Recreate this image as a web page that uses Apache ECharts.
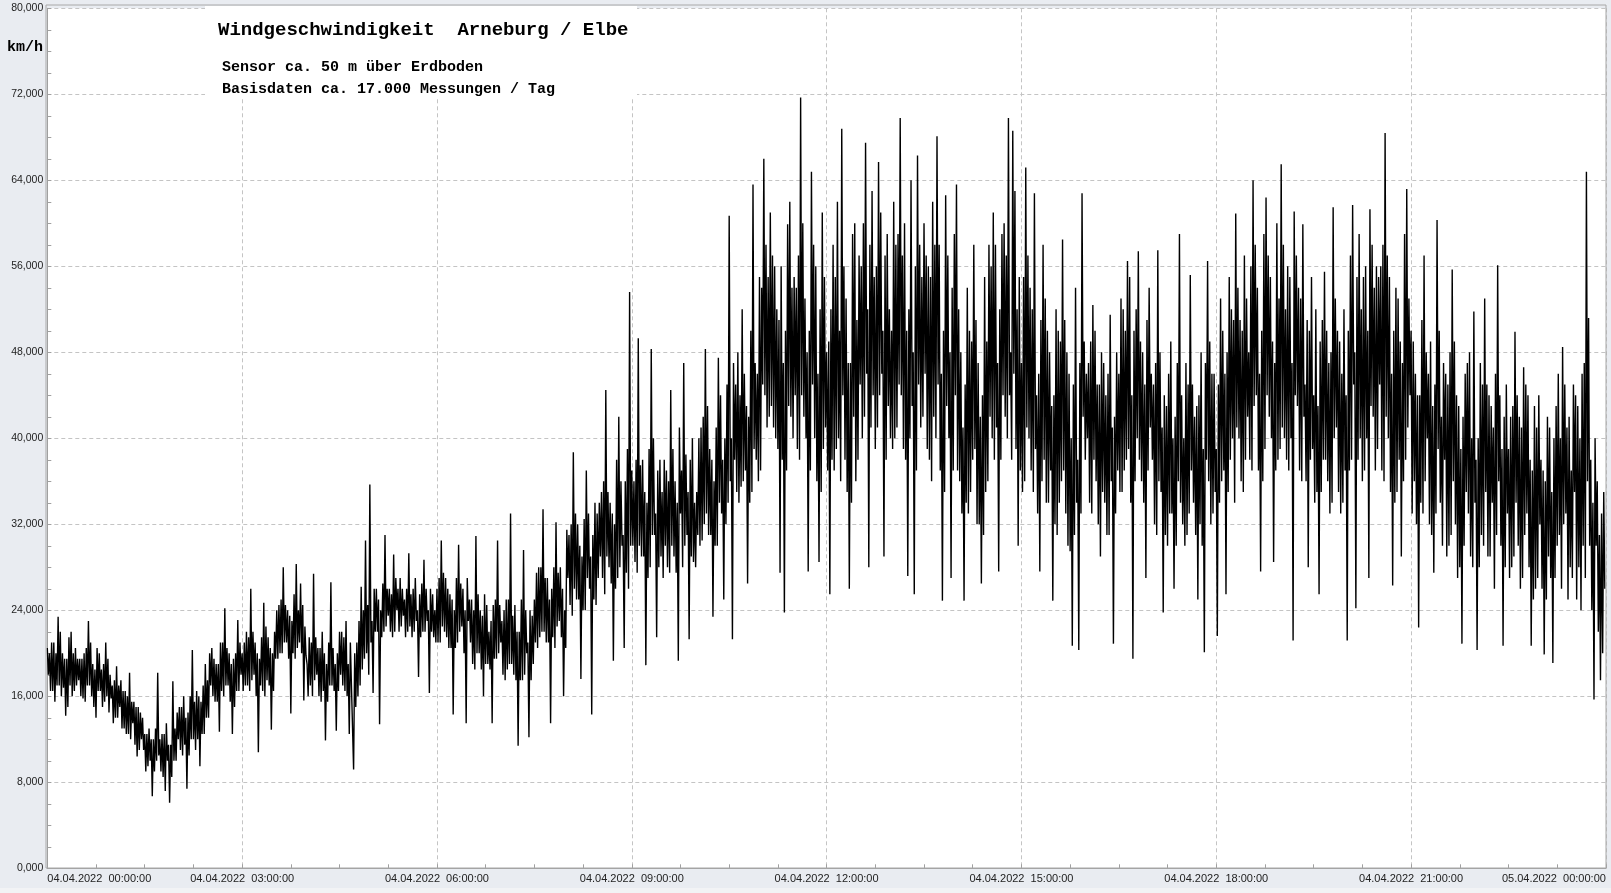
<!DOCTYPE html>
<html>
<head>
<meta charset="utf-8">
<script src="https://cdn.jsdelivr.net/npm/echarts@6/dist/echarts.min.js"></script>
<style>
html,body{margin:0;padding:0;background:#e9ecf1;}
#chart{width:1611px;height:893px;}
</style>
</head>
<body>
<div id="chart"></div>
<script>
// Wind speed km/h: two readings per 2-minute bin
// (first reading "a", second reading "b"), grouped in 3-hour blocks.
var a00_03 = [18,20,16.5,21,17,23.4,16,20,14.2,19.5,17,22,16.5,20.5,17.5,
  19.5,15.8,20,17,23,16,19,14,20.5,16.5,18.5,15.5,21,14.5,18,
  17,14,18.8,15,17.5,13,16.5,12.5,18.2,13.5,15.5,10.4,15,12,14,
  12.5,9.5,13,6.7,12,10,18.2,9,12.5,7.2,13.5,6.1,11.5,17.4,10,
  12,15,10.5,16,7.4,14.5,12,20.3,11,16.5,9.5,15.5,12.5,19,14,
  17,20.5,15.5,19,12.7,21,16,24.2,17,20,12.5,19.5,16.5,23.1,18];
var b00_03 = [20.5,16.5,21,15.5,20,17,22,16.8,19.5,15,21.5,16,20,17,19.5,
  16,19.5,15.5,20.5,17,21,15,18.5,16.5,20,15,19,16,19.5,15.8,
  13.5,17.5,14,17,13,16.5,12.5,16,12,15.5,11.5,15,11,14.5,11,
  9,12.5,10,12,9,13,10.5,12,8.5,12.5,10,11.5,8.5,10,13,
  14.5,11,15,11.5,14,10.5,16,12,15.5,12,16,12.5,17,14,17.5,
  20,16,19.5,15.5,19,16.5,21,17,20.5,15.5,19,15,20,16.5,21];
var a03_06 = [20,17,22,16.5,26,18,21,10.8,19.5,16.5,24.7,17.5,21.5,12.9,20,
  22,19.5,24.5,20,28,21,24,14.4,23,19.5,28.3,21,26.5,15.6,22.5,
  19,21.5,16,27.4,18,20.5,15.5,22,11.9,19,17,26.6,16.5,12.8,20,
  18,22,16.5,23,12.5,17,9.2,15,21,17,26.2,19.5,30.5,18,35.7,
  16.3,22,26,13.4,24,22,31,23.5,26,21.5,29.2,24,22,27,23.5,
  25,22,29.3,21.5,26,23,17.8,25.5,22,28.7,23,16.3,26,21.5,24];
var b03_06 = [16.5,21,17,21.5,17.5,22,16,20,17,21.5,16,22.5,17,20.5,16.5,
  19.5,24,20,25,21,24.5,19.5,23.5,20,25.5,20.5,24,20,24.5,19.8,
  16,17,21,17.5,21.5,16,20.5,16.5,20,15.5,21,17,20.5,19,16.5,
  22,17,21.5,16,19,21,17,20,16,23,18.5,24,20,24.5,21,
  23,26,22,25,21.5,26.5,22.5,26,22,25.5,22,27,26,22.5,26,
  21.5,26,22.5,25.5,22,27,24,21.5,26.5,22,26,24,22,25.5,21];
var a06_09 = [26,21,30.5,22,27,20.5,25.5,14.3,24,21,30.1,22.5,26,13.5,23,
  21,25,18.5,30.9,20,24,16,25.5,19,22,13.5,24.5,19.5,30.5,21,
  23,17.5,25,19,33,18,24.5,11.4,22,17.5,29.6,20,12.2,24,19,
  25,20.5,28,22,33.4,21,27,13.5,26,20.5,32.2,23,28,16,24,
  27,31,23.5,38.7,25,32,17.6,29,24,37,26,14.3,31,24.5,33,
  29,35,25.5,44.5,28,34,19.3,32,27,42,30,20.5,36,26,53.6];
var b06_09 = [21,27,22.5,27.5,21.5,26,20.5,25,20.5,27,22,26.5,20,24,27,
  25,19,24,20,25.5,18.5,23.5,19,24.5,18.5,23,19.5,25,20,24.5,
  18,24,18.5,25,19,23.5,17.5,22,17.5,25,18,24,21,17.5,23.5,
  21,27.5,21.5,28,22,27,21,25,21.5,28,22.5,27.5,21.5,26,20.5,
  31.5,24.5,32,26,33,25,30,24,32.5,27,33,29,25,34,27,
  34,27,36,29,35,26.5,33,26,38,28,36,31,27.5,39,30];
var a09_12 = [30,36,27.5,49.3,29,38,18.9,34,28,48.3,31,21.5,37,29,35,
  30,37,27.5,44.5,29,36,19.3,33,28,47,31,21.3,38,28.5,34,
  35,30,41,32,48.3,31,39,23.4,36,30,47.5,33,25,40,34,
  60.7,21.3,38,45,34,44,36,46,26.5,42,35,63.6,38,46,37,
  45,66,41,55,43,57,40,52,27.5,56,23.8,50,59.9,42,54,
  44,54,38,71.7,42,53,27.6,50,64.8,40,56,28.5,52,39,55];
var b09_12 = [37,28.5,38,30,37.5,29,35,27,39,31,40,33,28,38,27,
  38,28,36,30,39,27.5,34,41,37,30,38.5,35,29,40,28,
  31,40,30.5,42,33,43,31,38,30,41,34,44,38,32,45,
  36,40,47,35,48,35.5,52,37,43,34,50,39,47,36,55,
  54,44,58,42,61,41,56,39,51,38,47,37,43,62,40,
  55,39,57,44,60,40,48,37,45,58,36,46,35,61,41];
var a12_15 = [48,25.5,52,37,55,40,50,68.8,38,53,26,47,59,36,51,
  45,56,42,67.5,28,58,44,55,41,65.7,46,29,57,43,52,
  50,40,58,45,69.8,39,60,27.2,52,43,25.5,56,66.3,41,55,
  46,57,38,55,42,58,68.1,37,24.9,50,62.6,40,27,54,44,
  63.6,36,48,24.9,45,33,50,38,58,32,47,26.5,44,35,49,
  42,56,38,58,27.6,52,44,60,40,69.8,48,68.6,39,30,55];
var b12_15 = [37,49,38,58,39,62,36,44,56,35,47,34,42,60,38,
  57,40,60,46,52,41,63,39,56,44,61,50,38,59,40,
  39,62,41,59,44,57,38,50,40,64,48,37,45,58,42,
  60,39,56,36,62,40,45,58,46,35,43,57,48,37,59,
  37,52,33,41,34,54,35,49,39,51,32,42,31,55,36,
  58,40,61,41,47,38,59,42,57,44,38,46,63,52,37];
var a15_18 = [47,36,65.2,40,54,35,62.8,44,27.6,51,38,53,34,48,24.9,
  44,31,50,36,58.5,33,48,29.5,20.7,45,34,20.3,47,62.8,38,
  40,47,33,52.4,36,45,29,48,34,44,31,51.5,20.9,42,37,
  46,35,52,38,56.5,34,19.5,50,40,57.4,36,48,27,51,41,
  38,45,31,57.5,35,23.8,44,30,46,33,26,42,36,59,32,
  40,31,45,55.2,34,42,25,44,30,20.1,38,56.5,32,46,35];
var b15_18 = [35,55,41,57,37,52,39,33,46,36,58,34,50,37,43,
  32,52,34,49,37,51,30,46,40,31,54,38,33,42,49,
  46,34,49,38,50,32,45,35,47,31,46,36,41,33,48,
  35,53,37,50,39,55,44,36,52,38,49,34,45,37,54,
  46,32,47,36,48,41,31,43,33,49,40,30,47,34,44,
  30,47,33,37,45,31,43,32,48,39,47,36,49,33,46];
var a18_21 = [21.6,45,36,50,25.5,48,38,52,34,60.9,40,51,35,57,42,
  48,37,64,44,54,27.6,50,39,62.4,42,55,28.5,47,38,53,
  65.5,40,52,37,55,21.2,61.1,43,54,36,59.9,45,28,50,39,
  44,35,25.5,49,38,55.5,36,47,34,61.5,41,50,33,46,37,
  21.2,50,38,61.7,24.2,55,40,52,37,56,27,61.3,42,54,39,
  45,56,36,68.4,40,55,26.3,50,35,53,29,47,38,63.2,44];
var b18_21 = [39,34,53,37,46,35,55,40,51,41,54,36,50,38,53,
  38,56,43,58,37,46,36,59,44,57,40,49,37,60,39,
  41,58,38,56,40,47,44,57,37,53,42,36,51,38,55,
  34,52,43,35,51,38,50,33,48,40,53,35,49,34,52,
  44,37,57,45,48,38,59,36,55,40,50,43,58,37,56,
  55,37,58,42,57,35,46,34,54,38,49,36,59,41,53];
var a21_24 = [50,36,46,22.4,44,33,57,40,32,49,27.5,45,60.3,34,42,
  38,46,30,48,55.7,32,44,28,20.9,42,35,47,29,40,51.8,
  20.3,40,31,45,53,29,44,34,26,46,56.1,30,20.7,42,33,
  39,28,43,49.9,30,42,27,46.6,33,44,20.7,37,26,41,32,
  38,19.9,36,42,27,19.1,40,30,46,26,48.5,33,41,28,37,
  35,44,28,40,30,47,64.8,51.2,38,15.7,30,22,17.5,33,26];
var b21_24 = [33,49,32,44,34,51,36,48,46,31,43,33,39,50,30,
  47,29,45,31,36,49,27,43,39,30,46,33,48,28,34,
  38,28,47,30,35,45,29,43,41,31,36,44,39,28,45,
  27,42,29,34,44,26,41,31,45,28,38,25,43,27,44,
  26,37,25,29,41,35,27,43,31,40,32,45,25,42,27,
  45,25,43,24,46,27,36,30,24,34,40,36,31,20,35];

var binMinutes = 2;
var yTicks = [0,8,16,24,32,40,48,56,64,72,80];
var xTickHours = [0,3,6,9,12,15,18,21,24];

var readA = [].concat(a00_03,a03_06,a06_09,a09_12,a12_15,a15_18,a18_21,a21_24);
var readB = [].concat(b00_03,b03_06,b06_09,b09_12,b12_15,b15_18,b18_21,b21_24);
// each 2-minute bin: higher reading at its first minute, lower at its second
var seriesData = [];
for (var i=0;i<readA.length;i++){
  var hi = Math.max(readA[i], readB[i]), lo = Math.min(readA[i], readB[i]);
  seriesData.push([i*binMinutes, hi]);
  seriesData.push([i*binMinutes+1, lo]);
}

function pad(n){return (n<10?'0':'')+n;}
function xLabel(t){
  var h = Math.round(t/60);
  if (h>=24) return '05.04.2022  00:00:00';
  return '04.04.2022  ' + pad(h) + ':00:00';
}

var chart = echarts.init(document.getElementById('chart'), null, {renderer:'canvas'});
chart.setOption({
  animation:false,
  backgroundColor:'#e9ecf1',
  grid:{left:47.3, right:5.1, top:8.3, bottom:24.7, show:true, backgroundColor:'#ffffff', borderWidth:0, outerBoundsMode:'none', containLabel:false},
  xAxis:{type:'value', min:0, max:1440, interval:180,
    axisLine:{show:true, lineStyle:{color:'#a0a0a0', width:1}},
    axisTick:{show:true, inside:true, length:4, lineStyle:{color:'#a0a0a0'}},
    minorTick:{show:true, splitNumber:4, length:4, lineStyle:{color:'#a0a0a0'}},
    splitLine:{show:true, lineStyle:{color:'#c4c4c4', type:[4,3], width:1}},
    axisLabel:{formatter:xLabel, color:'#222', fontFamily:'Liberation Sans, Arial', fontSize:11, margin:5, alignMinLabel:'left', alignMaxLabel:'right', hideOverlap:false}
  },
  yAxis:{type:'value', min:0, max:80, interval:8,
    axisLine:{show:true, lineStyle:{color:'#a0a0a0', width:1}},
    axisTick:{show:true, inside:true, length:4, lineStyle:{color:'#a0a0a0'}},
    minorTick:{show:true, splitNumber:4, length:4, lineStyle:{color:'#a0a0a0'}},
    splitLine:{show:true, lineStyle:{color:'#c4c4c4', type:[4,3], width:1}},
    axisLabel:{formatter:function(v){return v.toFixed(3).replace('.',',');}, color:'#222', fontFamily:'Liberation Sans, Arial', fontSize:10.5, margin:4}
  },
  series:[{type:'line', data:seriesData, showSymbol:false, symbol:'none', sampling:null,
    lineStyle:{color:'#000000', width:1.4}, itemStyle:{color:'#000'}, z:3}],
  graphic:[
    {type:'rect', shape:{x:46, y:5, width:1560, height:863}, style:{fill:null, stroke:'#a8a8a8', lineWidth:1}, silent:true, z:50},
    {type:'rect', shape:{x:205, y:6, width:432, height:91}, style:{fill:'#ffffff'}, silent:true, z:40},
    {type:'rect', shape:{x:0, y:888, width:1611, height:5}, style:{fill:'#f2f3f5'}, silent:true, z:40},
    {type:'text', x:218, y:30, style:{text:'Windgeschwindigkeit  Arneburg / Elbe', font:'bold 19px "Liberation Mono", "Courier New", monospace', fill:'#000', textVerticalAlign:'middle'}, z:60},
    {type:'text', x:222, y:67, style:{text:'Sensor ca. 50 m über Erdboden', font:'bold 15px "Liberation Mono", "Courier New", monospace', fill:'#000', textVerticalAlign:'middle'}, z:60},
    {type:'text', x:222, y:89, style:{text:'Basisdaten ca. 17.000 Messungen / Tag', font:'bold 15px "Liberation Mono", "Courier New", monospace', fill:'#000', textVerticalAlign:'middle'}, z:60},
    {type:'text', x:7, y:47, style:{text:'km/h', font:'bold 15px "Liberation Mono", "Courier New", monospace', fill:'#000', textVerticalAlign:'middle'}, z:60}
  ]
});
</script>
</body>
</html>
